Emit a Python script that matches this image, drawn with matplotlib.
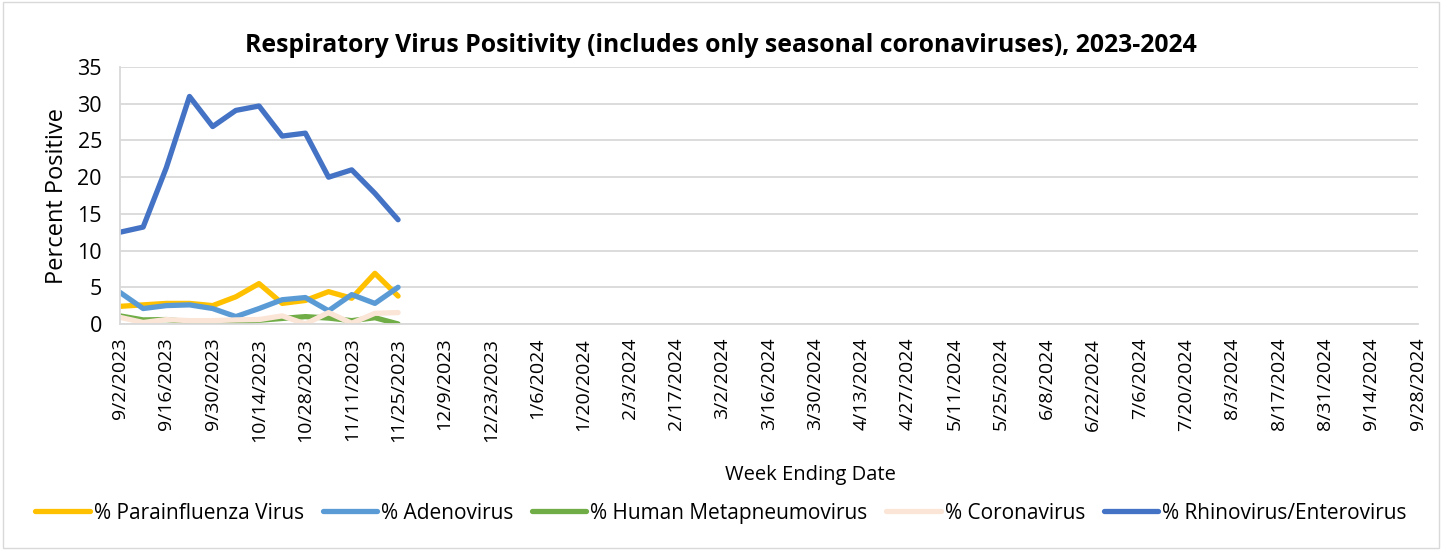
import pandas as pd
import matplotlib.pyplot as plt
from matplotlib.patches import Rectangle

# weekly categories, 9/2/2023 .. 9/28/2024
weeks = pd.date_range("2023-09-02", "2024-09-28", freq="7D")
week_labels = [f"{d.month}/{d.day}/{d.year}" for d in weeks]

# values reported so far (9/2/2023 .. 11/25/2023)
parainfluenza = [2.4, 2.6, 2.8, 2.8, 2.5, 3.7, 5.5, 2.8, 3.2, 4.4, 3.5, 6.9, 3.8]
adenovirus = [4.3, 2.1, 2.5, 2.6, 2.1, 1.0, 2.1, 3.3, 3.6, 1.8, 4.0, 2.8, 5.0]
hmpv = [1.1, 0.55, 0.6, 0.3, 0.0, 0.1, 0.5, 0.75, 1.0, 0.8, 0.45, 0.85, 0.0]
coronavirus = [0.9, 0.2, 0.6, 0.45, 0.45, 0.55, 0.6, 1.1, 0.0, 1.55, 0.1, 1.45, 1.55]
rhino = [12.5, 13.2, 21.3, 31.0, 26.9, 29.1, 29.7, 25.6, 26.0, 20.0, 21.0, 17.8, 14.2]

series = [
    ("% Parainfluenza Virus", parainfluenza, "#FFC000"),
    ("% Adenovirus", adenovirus, "#5B9BD5"),
    ("% Human Metapneumovirus", hmpv, "#70AD47"),
    ("% Coronavirus", coronavirus, "#FBE5D6"),
    ("% Rhinovirus/Enterovirus", rhino, "#4472C4"),
]

plt.rcParams['font.family'] = ['Open Sans', 'DejaVu Sans']

fig = plt.figure(figsize=(14.42, 5.5), dpi=100)
ax = fig.add_axes([0.0832, 0.411, 0.9, 0.467])

x = list(range(len(rhino)))
for name, vals, col in series:
    ax.plot(x, vals, color=col, lw=3.8, label=name, solid_capstyle='round', solid_joinstyle='round')

ax.set_xlim(0, len(weeks) - 1)
ax.set_ylim(0, 35)
ax.set_yticks(range(0, 36, 5))
ax.set_xticks(range(0, len(weeks), 2))
ax.set_xticklabels(week_labels[::2], rotation=90, fontsize=14)
ax.tick_params(axis='y', labelsize=15.5, length=0, pad=13)
ax.tick_params(axis='x', length=0, pad=10)

ax.grid(axis='y', color='#D9D9D9', lw=1.3)
ax.set_axisbelow(True)
for s in ['top', 'right']:
    ax.spines[s].set_visible(False)
for s in ['left', 'bottom']:
    ax.spines[s].set_color('#D9D9D9')
    ax.spines[s].set_linewidth(1.3)

fig.text(0.5, 0.918, "Respiratory Virus Positivity (includes only seasonal coronaviruses), 2023-2024",
         ha='center', va='center', fontsize=17.8, fontweight='bold')
ax.set_ylabel("Percent Positive", fontsize=17, labelpad=6)
fig.text(0.562, 0.136, "Week Ending Date", ha='center', va='center', fontsize=14.5)

fig.legend(loc='center', bbox_to_anchor=(0.5, 0.067), ncol=5, frameon=False,
           fontsize=15, handlelength=2.6, columnspacing=0.9, handletextpad=0.2)

fig.patches.append(Rectangle((0.002, 0.003), 0.996, 0.994, transform=fig.transFigure,
                             fill=False, edgecolor='#D9D9D9', lw=1))

fig.savefig("out.png", dpi=100)
